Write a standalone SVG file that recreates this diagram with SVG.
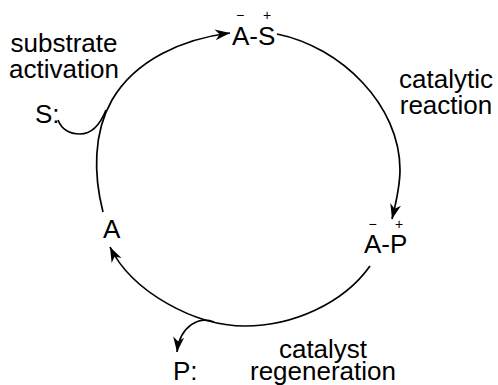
<svg xmlns="http://www.w3.org/2000/svg" width="498" height="385" viewBox="0 0 498 385">
<style>
text{font-family:"Liberation Sans",Helvetica,Arial,sans-serif;fill:#000}
.lbl{font-size:26px}
.chg{font-size:14px;text-anchor:middle;fill:#000}
.mid{text-anchor:middle}
.arc{fill:none;stroke:#000;stroke-width:1.7}
</style>
<defs>
<marker id="ah" markerUnits="userSpaceOnUse" markerWidth="20" markerHeight="14" viewBox="-16 -7 18 14" refX="0" refY="0" orient="auto">
<path d="M0,0 L-15,-5.5 L-10.5,0 L-15,5.5 Z" fill="#000"/>
</marker>
</defs>
<g id="connectors">
<path class="arc" d="M103,212 C93.5,175 93,133 112,100 C135.5,59.5 183.4,38.8 230,33" marker-end="url(#ah)"/>
<path class="arc" d="M277,34 C341,47 400,105 400,170 C400,186 396,203 392,219" marker-end="url(#ah)"/>
<path class="arc" d="M370,266 C343,304 292,326 245,326 C195,326 132,292 110,247" marker-end="url(#ah)"/>
<path class="arc" d="M58,120 C62,130 70,134 80,134 C92,134 100,125 106,110"/>
<path class="arc" d="M214,322 C200,316 180,325 177,352" marker-end="url(#ah)"/>
</g>
<g id="AS">
<text class="lbl" x="232" y="45">A-S</text>
<text class="chg" x="240" y="20">−</text>
<text class="chg" x="267" y="20">+</text>
</g>
<g id="AP">
<text class="lbl" x="364" y="253">A-P</text>
<text class="chg" x="372.5" y="229">−</text>
<text class="chg" x="399" y="229">+</text>
</g>
<g id="A"><text class="lbl" x="103" y="238">A</text></g>
<g id="S"><text class="lbl" x="35" y="123">S:</text></g>
<g id="P"><text class="lbl" x="173" y="380">P:</text></g>
<g id="lbl-activation">
<text class="lbl mid" x="64" y="52">substrate</text>
<text class="lbl mid" x="64" y="78">activation</text>
</g>
<g id="lbl-reaction">
<text class="lbl mid" x="446" y="88">catalytic</text>
<text class="lbl mid" x="446" y="114">reaction</text>
</g>
<g id="lbl-regeneration">
<text class="lbl mid" x="323" y="358">catalyst</text>
<text class="lbl mid" x="323" y="380">regeneration</text>
</g>
</svg>
